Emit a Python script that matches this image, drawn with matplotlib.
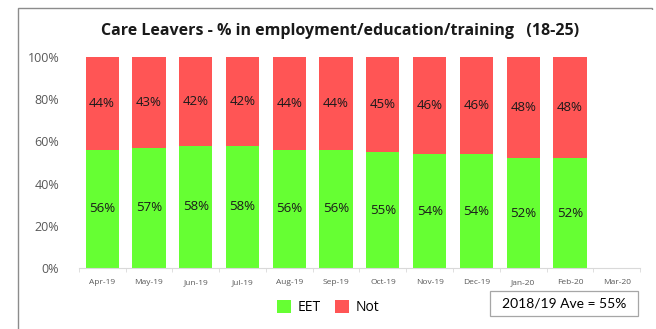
import matplotlib.pyplot as plt
from matplotlib.patches import Rectangle
import numpy as np

months = ["Apr-19", "May-19", "Jun-19", "Jul-19", "Aug-19", "Sep-19",
          "Oct-19", "Nov-19", "Dec-19", "Jan-20", "Feb-20", "Mar-20"]
eet = [56, 57, 58, 58, 56, 56, 55, 54, 54, 52, 52]
not_eet = [44, 43, 42, 42, 44, 44, 45, 46, 46, 48, 48]
average_label = "2018/19 Ave = 55%"

green = "#66FF33"
red = "#FF5555"

fig = plt.figure(figsize=(6.56, 3.29), dpi=100)
ax = fig.add_axes([0.120, 0.185, 0.856, 0.642])

x = np.arange(len(months))
xe = x[:len(eet)]
ax.bar(xe, eet, width=0.71, color=green, label="EET", zorder=2)
ax.bar(xe, not_eet, width=0.71, bottom=eet, color=red, label="Not", zorder=2)

for xi, g, r in zip(xe, eet, not_eet):
    ax.text(xi, g / 2, f"{g}%", ha="center", va="center", fontsize=9.5,
            color="#1a1a1a", family="Open Sans")
    ax.text(xi, g + r / 2, f"{r}%", ha="center", va="center", fontsize=9.5,
            color="#1a1a1a", family="Open Sans")

ax.set_xlim(-0.5, len(months) - 0.5)
ax.set_ylim(0, 100)
ax.set_yticks(range(0, 101, 20))
ax.set_yticklabels([f"{v}%" for v in range(0, 101, 20)], fontsize=9,
                   color="#595959", family="Open Sans")
ax.set_xticks(x)
ax.set_xticklabels(months, fontsize=6, color="#595959", family="Open Sans")
ax.set_xticks(np.arange(-0.5, len(months)), minor=True)
ax.tick_params(axis="x", which="major", length=0, pad=8)
ax.tick_params(axis="x", which="minor", length=3, color="#d9d9d9")
ax.tick_params(axis="y", length=0, pad=14)
for side in ("top", "right", "left"):
    ax.spines[side].set_visible(False)
ax.spines["bottom"].set_color("#d9d9d9")

fig.text(0.518, 0.905, "Care Leavers - % in employment/education/training   (18-25)",
         ha="center", va="center", fontsize=11.5, fontweight="bold",
         family="Open Sans", color="#1a1a1a")

ax.legend(loc="center", bbox_to_anchor=(0.5, 0.065), bbox_transform=fig.transFigure,
          ncol=2, frameon=False, handlelength=1.0, handleheight=1.0,
          columnspacing=1.0, handletextpad=0.5, prop={"family": "Open Sans", "size": 10})

# average annotation box
fig.add_artist(Rectangle((490 / 656, 1 - 316 / 329), 148 / 656, 25 / 329,
                         transform=fig.transFigure, fc="white", ec="#a6a6a6", lw=0.9))
fig.text(564 / 656, 1 - 303.5 / 329, average_label, ha="center", va="center",
         fontsize=10, family="Lato", color="#000000")

# outer chart frame (left and top edges only)
fig.add_artist(Rectangle((18 / 656, -0.05), 634 / 656, 1.05 - 8 / 329,
                         transform=fig.transFigure, fill=False,
                         ec="#8c8c8c", lw=1.0))
fig.add_artist(Rectangle((649 / 656, -0.06), 0.1, 0.06 + 1 - 10 / 329,
                         transform=fig.transFigure, fc="white", ec="none"))

fig.savefig("out.png", dpi=100)
